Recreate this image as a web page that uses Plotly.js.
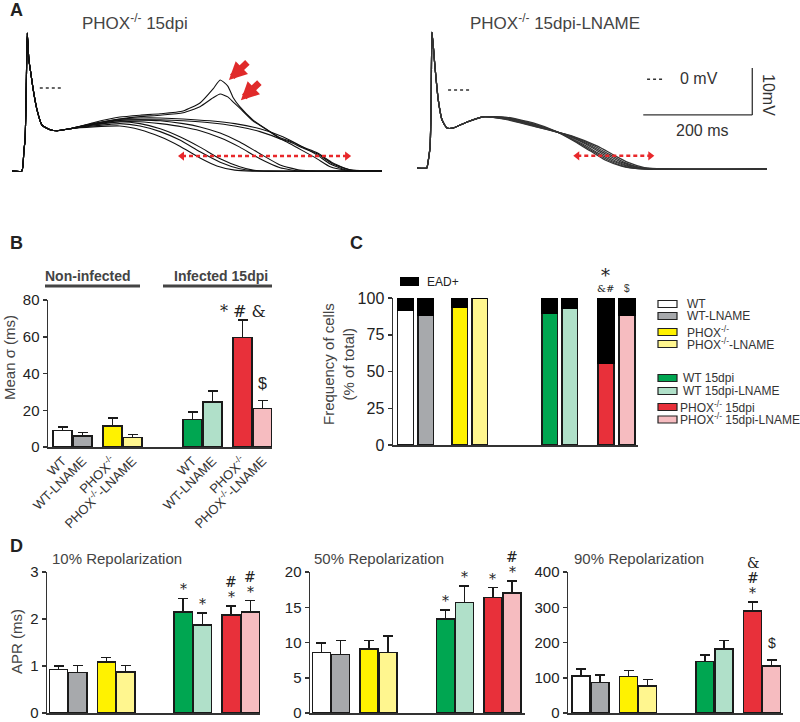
<!DOCTYPE html>
<html><head><meta charset="utf-8">
<script src="https://cdn.plot.ly/plotly-3.0.1.min.js"></script>
<style>html,body{margin:0;padding:0;background:#fff}#chart{width:800px;height:722px}</style>
</head><body><div id="chart"></div>
<script>
// ---------------- DATA ----------------
// Panel A: action potential traces (time in ms, membrane potential in mV)
const apLcT = [0,18,20,22,24,26,28,31,35,39,46,55,70,83,106];
const apLcV = [-17.7,-17.7,-16.6,-13.2,-11.1,-1.5,11.7,6.0,2.8,-0.4,-4.7,-7.9,-8.9,-9.1,-8.7];
const apL1T = [149,198,235,272,314,345,369,382,396,406,418,442,468,492,510,534,560,589,620,679];
const apL1V = [-7.4,-6.2,-5.8,-5.5,-4.9,-3.2,-0.2,1.7,0.4,-2.1,-4.0,-6.8,-8.9,-10.6,-11.3,-12.6,-13.8,-16.0,-17.4,-17.7];
const apL2T = [149,198,235,272,314,345,369,382,396,406,418,442,468,492,510,534,560,589,620,679];
const apL2V = [-7.6,-6.6,-6.1,-5.8,-5.3,-4.0,-2.1,-1.3,-1.9,-3.0,-4.3,-7.0,-8.9,-10.8,-11.5,-12.8,-14.0,-16.2,-17.4,-17.7];
const apL3T = [149,198,235,272,314,363,409,455,497,534,560,584,611,650,679];
const apL3V = [-7.6,-6.6,-6.4,-6.4,-6.6,-7.0,-7.6,-8.7,-10.4,-12.6,-14.3,-16.2,-17.4,-17.7,-17.7];
const apL4T = [149,198,235,272,314,363,409,455,497,534,560,584,611,650,679];
const apL4V = [-7.8,-6.9,-6.8,-6.8,-7.0,-7.4,-8.1,-9.3,-11.1,-13.4,-15.1,-16.8,-17.5,-17.7,-17.7];
const apL5T = [149,198,235,272,314,345,382,418,455,492,528,560,679];
const apL5V = [-7.7,-6.8,-6.8,-7.0,-7.6,-8.3,-9.6,-11.5,-14.0,-16.4,-17.5,-17.7,-17.7];
const apL6T = [149,198,235,272,314,345,382,418,455,492,528,560,679];
const apL6V = [-7.9,-7.2,-7.2,-7.6,-8.3,-9.1,-10.6,-12.6,-15.1,-17.0,-17.7,-17.7,-17.7];
const apL7T = [149,198,235,272,308,345,382,418,442,470,679];
const apL7V = [-7.9,-7.2,-7.6,-8.7,-10.4,-12.6,-15.1,-16.8,-17.5,-17.7,-17.7];
const apL8T = [149,198,235,272,308,345,382,418,442,470,679];
const apL8V = [-8.1,-7.6,-8.1,-9.3,-11.1,-13.6,-15.8,-17.2,-17.6,-17.7,-17.7];
const apL9T = [149,198,235,272,308,345,376,409,440,679];
const apL9V = [-8.3,-8.1,-8.9,-10.4,-12.4,-14.9,-16.6,-17.5,-17.7,-17.7];

const apRcT = [0,18,20,22,24,26,27.5,33,39,46,55,66,92,121];
const apRcV = [-16.6,-16.6,-15.5,-14.0,-12.1,-3.0,12.3,4.9,-2.1,-6.4,-8.1,-8.1,-6.8,-5.7];
const apR1T = [165,213,255,290,318,345,375,410,642];
const apR1V = [-5.8,-7.0,-8.8,-11.0,-13.0,-14.9,-16.2,-16.8,-16.8];
const apR2T = [165,213,260,297,325,352,382,417,642];
const apR2V = [-5.9,-7.2,-9.1,-11.3,-13.2,-15.0,-16.3,-16.8,-16.8];
const apR3T = [165,213,265,304,332,359,389,424,642];
const apR3V = [-6.0,-7.3,-9.3,-11.5,-13.4,-15.1,-16.3,-16.8,-16.8];
const apR4T = [165,213,270,311,339,366,396,431,642];
const apR4V = [-6.0,-7.4,-9.4,-11.6,-13.5,-15.2,-16.4,-16.8,-16.8];
const apR5T = [165,213,275,318,346,373,403,438,642];
const apR5V = [-6.1,-7.5,-9.6,-11.8,-13.6,-15.3,-16.4,-16.8,-16.8];
const apR6T = [165,213,280,325,353,380,410,445,642];
const apR6V = [-6.2,-7.6,-9.7,-11.9,-13.7,-15.4,-16.5,-16.8,-16.8];
const apR7T = [165,213,285,332,360,387,417,452,642];
const apR7V = [-6.3,-7.7,-9.8,-12.0,-13.8,-15.4,-16.5,-16.8,-16.8];

// APD dispersion ranges (ms) and EAD peaks
const spreadLT = [312, 615]; const spreadLV = -14.5;
const spreadRT = [294, 428]; const spreadRV = -14.0;
const eadPeakT = [398, 420]; const eadPeakV = [1.7, -2.6];

// Groups
const groupNames = ['WT','WT-LNAME','PHOX<sup>-/-</sup>','PHOX<sup>-/-</sup>-LNAME',
  'WT 15dpi','WT 15dpi-LNAME','PHOX<sup>-/-</sup> 15dpi','PHOX<sup>-/-</sup> 15dpi-LNAME'];
const tickLabelsB = ['WT','WT-LNAME','PHOX<sup>-/-</sup>','PHOX<sup>-/-</sup>-LNAME',
  'WT','WT-LNAME','PHOX<sup>-/-</sup>','PHOX<sup>-/-</sup>-LNAME'];

// Panel B: mean sigma (ms)
const sigmaMean = [9.1,6.0,11.5,5.1,15.1,24.5,59.6,20.9];
const sigmaSEM  = [1.8,1.8,4.3,1.6,4.0,5.9,9.5,4.4];
const sigB = [[],[],[],[],[],[],['* # &'],['$']];

// Panel C: frequency of cells (% of total)
const eadNeg = [91.4,88.2,93.9,100,89.8,92.7,55.7,88.0];
const eadPos = [8.6,11.8,6.1,0,10.2,7.3,44.3,12.0];

// Panel D: APR (ms)
const apr10 = [0.93,0.86,1.09,0.875,2.15,1.87,2.085,2.15];
const apr10Err = [0.07,0.15,0.09,0.135,0.29,0.26,0.195,0.24];
const sig10 = [[],[],[],[],['*'],['*'],['*','#'],['*','#']];
const apr50 = [8.56,8.3,9.1,8.56,13.3,15.7,16.4,17.0];
const apr50Err = [1.34,2.0,1.2,2.34,1.3,2.3,1.4,1.7];
const sig50 = [[],[],[],[],['*'],['*'],['*'],['*','#']];
const apr90 = [105,86,103,76,146,182,290,133];
const apr90Err = [20,22,17,19,19,23,25,17];
const sig90 = [[],[],[],[],[],[],['*','#','&'],['$']];

// ---------------- STYLE / LAYOUT ----------------
const W = 800, H = 722;
const SANS = 'Liberation Sans, Arial, sans-serif';
const SERIF = 'DejaVu Serif, Liberation Serif, serif';
const barColors = ['#ffffff','#a7a9ac','#fff200','#fff68f','#00a651','#b0e0c9','#e8303a','#f6bcc0'];
const posBar = [0,1,2.5,3.5,6.5,7.5,9,10];
const posC = [0,1,2.7,3.7,7.2,8.2,10,11.05];
const PX = x => x / W, PY = y => 1 - y / H;
const dx = (a,b) => [PX(a), PX(b)];
const dy = (top,bot) => [PY(bot), PY(top)];

const traces = [];
function apTrace(cT, cV, t, v, xa, ya, color, w) {
  traces.push({type:'scatter', mode:'lines', x: cT.concat(t), y: cV.concat(v), xaxis: xa, yaxis: ya,
    line:{color: color, width: w, shape:'spline', smoothing:0.5}, hoverinfo:'skip'});
}
[[apL1T,apL1V],[apL2T,apL2V],[apL3T,apL3V],[apL4T,apL4V],[apL5T,apL5V],[apL6T,apL6V],[apL7T,apL7V],[apL8T,apL8V],[apL9T,apL9V]]
  .forEach(([t,v]) => apTrace(apLcT, apLcV, t, v, 'x', 'y', '#111', 1.1));
[[apR1T,apR1V],[apR2T,apR2V],[apR3T,apR3V],[apR4T,apR4V],[apR5T,apR5V],[apR6T,apR6V],[apR7T,apR7V]]
  .forEach(([t,v]) => apTrace(apRcT, apRcV, t, v, 'x2', 'y2', '#333', 1.2));

// dispersion arrows
[[spreadLT, spreadLV, 'x', 'y'], [spreadRT, spreadRV, 'x2', 'y2']].forEach(([t, v, xa, ya]) => {
  traces.push({type:'scatter', mode:'lines+markers', x: t, y: [v, v], xaxis: xa, yaxis: ya,
    line:{color:'#e8282b', width:2.5, dash:'4px,3px'},
    marker:{symbol:['triangle-left','triangle-right'], size:8, color:'#e8282b'}, hoverinfo:'skip'});
});

function barTrace(x, y, err, xa, ya, width) {
  const t = {type:'bar', x: x, y: y, width: width, xaxis: xa, yaxis: ya, hoverinfo:'skip',
    marker:{color: barColors, line:{color:'#1a1a1a', width:1.5}}};
  if (err) t.error_y = {type:'data', array: err, arrayminus: err.map(() => 0), symmetric:false,
    color:'#1a1a1a', thickness:1.5, width:5};
  traces.push(t);
}
barTrace(posBar, sigmaMean, sigmaSEM, 'x3', 'y3', 0.95);
barTrace(posC, eadNeg, null, 'x4', 'y4', 0.78);
traces.push({type:'bar', x: posC, y: eadPos, width: 0.78, xaxis:'x4', yaxis:'y4', hoverinfo:'skip',
  marker:{color:'#000000', line:{color:'#000000', width:1.5}}});
barTrace(posBar, apr10, apr10Err, 'x5', 'y5', 0.95);
barTrace(posBar, apr50, apr50Err, 'x6', 'y6', 0.95);
barTrace(posBar, apr90, apr90Err, 'x7', 'y7', 0.95);

// axes
const hidden = (dom, range) => ({domain: dom, range: range, visible:false, fixedrange:true});
function yBar(dom, range, tv, anchor, size) {
  return {domain: dom, range: range, anchor: anchor, showline:true, linecolor:'#333', linewidth:1.5,
    ticks:'outside', ticklen:4, tickwidth:1.5, tickcolor:'#333', tickvals: tv,
    tickfont:{family:SANS, size: size || 15, color:'#222'}, showgrid:false, zeroline:false, fixedrange:true};
}
function xBar(dom, range, anchor) {
  return {domain: dom, range: range, anchor: anchor, showline:true, linecolor:'#333', linewidth:1.5,
    ticks:'', showticklabels:false, showgrid:false, zeroline:false, fixedrange:true};
}
const layout = {
  width: W, height: H, margin:{l:0, r:0, t:0, b:0}, paper_bgcolor:'#fff', plot_bgcolor:'rgba(0,0,0,0)',
  showlegend:false, barmode:'stack', hovermode:false, font:{family:SANS, color:'#333'},
  xaxis: hidden(dx(12,382), [0,679]),
  yaxis: Object.assign(hidden(dy(25,180), [-19.6,13.4]), {anchor:'x'}),
  xaxis2: Object.assign(hidden(dx(417,767), [0,642]), {anchor:'y2'}),
  yaxis2: Object.assign(hidden(dy(25,180), [-19.15,13.83]), {anchor:'x2'}),
  xaxis3: Object.assign(xBar(dx(48,272), [-0.725,10.475], 'y3'), {
    showticklabels:true, tickvals: posBar, ticktext: tickLabelsB, tickangle:-45,
    tickfont:{family:SANS, size:13, color:'#333'}}),
  yaxis3: yBar(dy(300,447), [0,80], [0,20,40,60,80], 'x3'),
  xaxis4: xBar(dx(393,638), [-0.625,11.6], 'y4'),
  yaxis4: yBar(dy(298,445), [0,100], [0,25,50,75,100], 'x4', 16),
  xaxis5: xBar(dx(47,260), [-0.6,10.5], 'y5'),
  yaxis5: yBar(dy(572,713), [0,3], [0,1,2,3], 'x5'),
  xaxis6: xBar(dx(310,525), [-0.6,10.68], 'y6'),
  yaxis6: yBar(dy(572,713), [0,20], [0,5,10,15,20], 'x6'),
  xaxis7: xBar(dx(568,783), [-0.68,10.6], 'y7'),
  yaxis7: yBar(dy(572,713), [0,400], [0,100,200,300,400], 'x7'),
  shapes: [], annotations: []
};
const S = layout.shapes, A = layout.annotations;

// Panel A decorations
S.push({type:'line', xref:'x', yref:'y', x0:51, x1:92, y0:0, y1:0, line:{color:'#333', width:1.5, dash:'3px,3px'}});
S.push({type:'line', xref:'x2', yref:'y2', x0:57, x1:97, y0:0, y1:0, line:{color:'#333', width:1.5, dash:'3px,3px'}});
S.push({type:'line', xref:'x2', yref:'y2', x0:422, x1:451, y0:2.3, y1:2.3, line:{color:'#333', width:1.5, dash:'3px,3px'}});
S.push({type:'line', xref:'x2', yref:'y2', x0:615, x1:615, y0:-5.3, y1:4.7, line:{color:'#333', width:1.3}});
S.push({type:'line', xref:'x2', yref:'y2', x0:415, x1:615, y0:-5.3, y1:-5.3, line:{color:'#333', width:1.3}});
eadPeakT.forEach((t, i) => A.push({xref:'x', yref:'y', x: t, y: eadPeakV[i], ax: 20, ay: -19, text:'',
  showarrow:true, arrowhead:2, arrowsize:0.55, arrowwidth:6.5, arrowcolor:'#e02a2a', standoff:0}));

function txt(x, y, text, size, opts) {
  A.push(Object.assign({xref:'paper', yref:'paper', x: PX(x), y: PY(y), text: text, showarrow:false,
    xanchor:'center', yanchor:'middle', font:{family:SANS, size: size, color:'#333'}}, opts || {}));
}
txt(16, 10, '<b>A</b>', 18, {font:{family:SANS, size:18, color:'#222'}});
txt(16, 243, '<b>B</b>', 18, {font:{family:SANS, size:18, color:'#222'}});
txt(356, 243, '<b>C</b>', 18, {font:{family:SANS, size:18, color:'#222'}});
txt(16, 546, '<b>D</b>', 18, {font:{family:SANS, size:18, color:'#222'}});
txt(80, 22, 'PHOX<sup>-/-</sup> 15dpi', 17, {xanchor:'left', font:{family:SANS, size:17, color:'#444'}});
txt(468, 22, 'PHOX<sup>-/-</sup> 15dpi-LNAME', 17, {xanchor:'left', font:{family:SANS, size:17, color:'#444'}});
txt(678, 79, '0 mV', 16, {xanchor:'left'});
txt(702, 130, '200 ms', 16);
txt(768, 95, '10mV', 16, {textangle:90});

// Panel B decorations
txt(88, 276, '<b>Non-infected</b>', 14, {font:{family:SANS, size:14, color:'#444'}});
txt(221, 276, '<b>Infected 15dpi</b>', 14, {font:{family:SANS, size:14, color:'#444'}});
S.push({type:'line', xref:'paper', yref:'paper', x0:PX(45), x1:PX(140), y0:PY(286), y1:PY(286), line:{color:'#444', width:3}});
S.push({type:'line', xref:'paper', yref:'paper', x0:PX(163), x1:PX(272), y0:PY(286), y1:PY(286), line:{color:'#444', width:3}});
txt(10, 358, 'Mean σ (ms)', 15, {textangle:-90, font:{family:SANS, size:15, color:'#444'}});

function sigAnn(xa, ya, pos, means, errs, sig, size) {
  sig.forEach((arr, i) => arr.forEach((s, k) => {
    const base = s === '$' ? 17 : 9;
    A.push({xref: xa, yref: ya, x: pos[i], y: means[i] + errs[i], text: s, showarrow:false,
      xanchor:'center', yanchor:'middle', yshift: base + 15 * k,
      font:{family: s === '$' ? SANS : SERIF, size: size, color:'#222'}});
  }));
}
sigAnn('x3', 'y3', posBar, sigmaMean, sigmaSEM, sigB, 16);
sigAnn('x5', 'y5', posBar, apr10, apr10Err, sig10, 14);
sigAnn('x6', 'y6', posBar, apr50, apr50Err, sig50, 14);
sigAnn('x7', 'y7', posBar, apr90, apr90Err, sig90, 14);

// Panel C decorations
txt(339, 364, 'Frequency of cells<br>(% of total)', 15, {textangle:-90, font:{family:SANS, size:15, color:'#444'}});
S.push({type:'rect', xref:'paper', yref:'paper', x0:PX(400), x1:PX(419), y0:PY(286), y1:PY(277), fillcolor:'#000', line:{width:0}});
txt(425, 282, 'EAD+', 12, {xanchor:'left', font:{family:SANS, size:12, color:'#222'}});
A.push({xref:'x4', yref:'y4', x: posC[6], y: 100, text:'*', showarrow:false, yanchor:'middle', yshift:23,
  font:{family:SERIF, size:18, color:'#222'}});
A.push({xref:'x4', yref:'y4', x: posC[6], y: 100, text:'&#', showarrow:false, yanchor:'middle', yshift:10,
  font:{family:SERIF, size:10, color:'#222'}});
A.push({xref:'x4', yref:'y4', x: posC[7], y: 100, text:'$', showarrow:false, yanchor:'middle', yshift:10,
  font:{family:SANS, size:10, color:'#333'}});
const legY = [304, 316, 332, 344, 378, 391, 407, 419.5];
const legTx = [685, 685, 685, 685, 681, 681, 678, 678];
groupNames.forEach((g, i) => {
  S.push({type:'rect', xref:'paper', yref:'paper', x0:PX(658), x1:PX(677), y0:PY(legY[i] + 3.5), y1:PY(legY[i] - 3.5),
    fillcolor: barColors[i], line:{color:'#222', width:1.2}});
  txt(legTx[i], legY[i], g, 12, {xanchor:'left', font:{family:SANS, size:12, color:'#333'}});
});

// Panel D decorations
txt(16, 642, 'APR (ms)', 15, {textangle:-90, font:{family:SANS, size:15, color:'#444'}});
txt(50, 558, '10% Repolarization', 15, {xanchor:'left', font:{family:SANS, size:15, color:'#444'}});
txt(312, 558, '50% Repolarization', 15, {xanchor:'left', font:{family:SANS, size:15, color:'#444'}});
txt(572, 558, '90% Repolarization', 15, {xanchor:'left', font:{family:SANS, size:15, color:'#444'}});

Plotly.newPlot('chart', traces, layout, {staticPlot:true, displayModeBar:false});
</script></body></html>
